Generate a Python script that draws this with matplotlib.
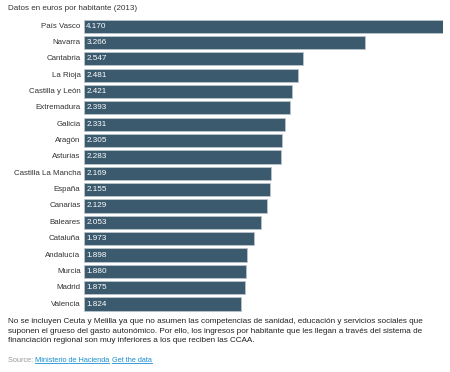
import matplotlib
matplotlib.use("Agg")
import matplotlib.pyplot as plt

plt.rcParams['font.family'] = ['Liberation Sans', 'DejaVu Sans']

regions = ["País Vasco", "Navarra", "Cantabria", "La Rioja", "Castilla y León",
           "Extremadura", "Galicia", "Aragón", "Asturias", "Castilla La Mancha",
           "España", "Canarias", "Baleares", "Cataluña", "Andalucía", "Murcia",
           "Madrid", "Valencia"]
values = [4170, 3266, 2547, 2481, 2421, 2393, 2331, 2305, 2283, 2169,
          2155, 2129, 2053, 1973, 1898, 1880, 1875, 1824]
value_labels = ["4.170", "3.266", "2.547", "2.481", "2.421", "2.393", "2.331",
                "2.305", "2.283", "2.169", "2.155", "2.129", "2.053", "1.973",
                "1.898", "1.880", "1.875", "1.824"]

title = "Datos en euros por habitante (2013)"
note_lines = ["No se incluyen Ceuta y Melilla ya que no asumen las competencias de sanidad, educación y servicios sociales que",
              "suponen el grueso del gasto autonómico. Por ello, los ingresos por habitante que les llegan a través del sistema de",
              "financiación regional son muy inferiores a los que reciben las CCAA."]
source_label = "Source:"
links = ["Ministerio de Hacienda", "Get the data"]

W, H = 450, 372
fig = plt.figure(figsize=(W / 100, H / 100), dpi=100)
fig.patch.set_facecolor("white")
r = fig.canvas.get_renderer()


def fit_size(s, target_px, base=6.0):
    t = fig.text(0, 0, s, fontsize=base)
    w = t.get_window_extent(r).width
    t.remove()
    return base * target_px / w


lab_fs = fit_size("Castilla La Mancha", 68)
val_fs = fit_size("2.169", 20.5)
title_fs = fit_size(title, 131)
note_fs = fit_size(note_lines[0], 420)
src_fs = fit_size(source_label + " " + links[0] + " " + links[1], 148)

ax = fig.add_axes([84 / W, 1 - 312.2 / H, (443 - 84) / W, (312.2 - 18.1) / H])
ypos = list(range(len(regions)))
ax.barh(ypos, values, height=0.8, color="#3b5a6e", edgecolor="#b8c4cc", linewidth=0.6)
ax.set_xlim(0, values[0])
ax.set_ylim(len(regions) - 0.5, -0.5)
ax.axis("off")

for y, (rg, lab) in enumerate(zip(regions, value_labels)):
    ax.text(-3.5 / 359 * values[0], y, rg, ha="right", va="center", fontsize=lab_fs, color="#333333")
    ax.text(2.3 / 359 * values[0], y, lab, ha="left", va="center", fontsize=val_fs, color="white")

fig.text(8 / W, 1 - 8 / H, title, ha="left", va="center", fontsize=title_fs, color="#333333")
for i, ln in enumerate(note_lines):
    fig.text(8 / W, 1 - (321.7 + 9.6 * i) / H, ln, ha="left", va="center", fontsize=note_fs, color="#222222")

ys = 1 - 360.7 / H
t1 = fig.text(8 / W, ys, source_label + " ", ha="left", va="center", fontsize=src_fs, color="#999999")
bb = t1.get_window_extent(r)
x = bb.x1 / W
for lk in links:
    t = fig.text(x, ys, lk, ha="left", va="center", fontsize=src_fs, color="#1a8fd0")
    b = t.get_window_extent(r)
    fig.add_artist(plt.Line2D([b.x0 / W, b.x1 / W], [(b.y0 + 0.8) / H] * 2, color="#1a8fd0", lw=0.6))
    x = (b.x1 + 2.5) / W

fig.savefig("out.png", dpi=100, facecolor="white")
